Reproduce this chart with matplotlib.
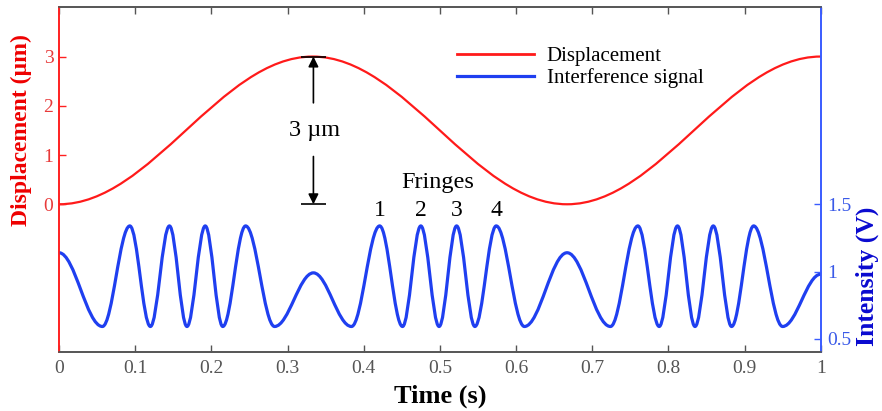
import numpy as np
import matplotlib
matplotlib.use("Agg")
import matplotlib.pyplot as plt
from matplotlib.path import Path
from matplotlib.patches import PathPatch
from matplotlib.lines import Line2D

plt.rcParams['font.family'] = ['Liberation Serif', 'DejaVu Serif']
plt.rcParams['mathtext.fontset'] = 'stix'

# ---- data (turning points of each curve) ----
disp_t = [0.0, 0.333, 0.667, 1.0]          # s
disp_um = [0.0, 3.0, 0.0, 3.0]             # µm

sig_t = [0.0, 0.057, 0.093, 0.120, 0.145, 0.168, 0.192, 0.215, 0.245, 0.283,
         0.334, 0.384, 0.421, 0.451, 0.475, 0.499, 0.522, 0.546, 0.574, 0.611,
         0.667, 0.724, 0.760, 0.788, 0.812, 0.835, 0.859, 0.883, 0.912, 0.950,
         1.0]
sig_v = [1.14, 0.59, 1.34, 0.59, 1.34, 0.59, 1.34, 0.59, 1.34, 0.59,
         0.99, 0.59, 1.34, 0.59, 1.34, 0.59, 1.34, 0.59, 1.34, 0.59,
         1.14, 0.59, 1.34, 0.59, 1.34, 0.59, 1.34, 0.59, 1.34, 0.59,
         0.98]

x_ticks = [0, 0.1, 0.2, 0.3, 0.4, 0.5, 0.6, 0.7, 0.8, 0.9, 1]
x_ticklabels = ['0', '0.1', '0.2', '0.3', '0.4', '0.5', '0.6', '0.7', '0.8', '0.9', '1']
disp_ticks = [0, 1, 2, 3]
int_ticks = [0.5, 1, 1.5]
int_ticklabels = ['0.5', '1', '1.5']
fringe_labels = ['1', '2', '3', '4']
fringe_idx = [12, 14, 16, 18]   # indices of the labelled peaks in sig_t

RED = '#ff1a1a'
BLUE = '#1f3ff0'


def smooth_path(xs, ys):
    """Cubic Bezier through turning points with flat tangents (drawn by matplotlib)."""
    c = 0.364
    verts = [(xs[0], ys[0])]
    codes = [Path.MOVETO]
    for i in range(len(xs) - 1):
        dx = xs[i + 1] - xs[i]
        verts += [(xs[i] + c * dx, ys[i]), (xs[i + 1] - c * dx, ys[i + 1]),
                  (xs[i + 1], ys[i + 1])]
        codes += [Path.CURVE4] * 3
    return Path(verts, codes)


fig = plt.figure(figsize=(8.82, 4.11), dpi=100)
ax = fig.add_axes([0.0669, 0.1436, 0.8636, 0.8386])
ax2 = ax.twinx()

ax.add_patch(PathPatch(smooth_path(disp_t, disp_um), fill=False, edgecolor=RED,
                       lw=1.6, capstyle='round', joinstyle='round'))
ax2.add_patch(PathPatch(smooth_path(sig_t, sig_v), fill=False, edgecolor=BLUE,
                        lw=2.3, capstyle='round', joinstyle='round'))

ax.set_xlim(0, 1)
ax.set_ylim(-3, 4)
ax2.set_ylim(0.4, 2.97)

ax.set_xticks(x_ticks)
ax.set_xticklabels(x_ticklabels)
ax.set_yticks(disp_ticks)
ax2.set_yticks(int_ticks)
ax2.set_yticklabels(int_ticklabels)

ax.tick_params(axis='x', direction='in', top=True, length=5, width=1,
               colors='#555555', labelsize=14, pad=6)
ax.tick_params(axis='y', direction='in', length=5, width=1, colors='#ff2020',
               labelcolor='#e83a3a', labelsize=14, pad=4, right=False)
ax2.tick_params(axis='y', direction='in', length=5, width=1, colors='#3a5cff',
                labelcolor='#3a5ae8', labelsize=14, pad=5)

for a in (ax, ax2):
    a.spines['top'].set_color('#555555')
    a.spines['bottom'].set_color('#555555')
    a.spines['left'].set_color('#ff2020')
    a.spines['right'].set_color('#3a5cff')
    for s in a.spines.values():
        s.set_linewidth(1.2)

ax.set_xlabel('Time (s)', fontsize=19, fontweight='bold', color='black')
ax.xaxis.set_label_coords(0.5, -0.095)
ax.set_ylabel('Displacement (µm)', fontsize=17, fontweight='bold', color='#ee0000')
ax.yaxis.set_label_coords(-0.036, 0.645)
ax2.set_ylabel('Intensity (V)', fontsize=18.5, fontweight='bold', color='#0a0ad0')
ax2.yaxis.set_label_coords(1.046, 0.22)

# 3 µm annotation
xa = disp_t[1] + 0.001
bar = 0.016
ax.hlines([disp_um[1], disp_um[0]], xa - bar, xa + bar, colors='black', lw=1.2)
ax.annotate('', xy=(xa, disp_um[1]), xytext=(xa, 2.06),
            arrowprops=dict(arrowstyle='-|>,head_length=0.6,head_width=0.3',
                            color='black', lw=1.2, shrinkA=0, shrinkB=0))
ax.annotate('', xy=(xa, disp_um[0]), xytext=(xa, 0.97),
            arrowprops=dict(arrowstyle='-|>,head_length=0.6,head_width=0.3',
                            color='black', lw=1.2, shrinkA=0, shrinkB=0))
ax.text(xa + 0.001, 1.49, '3 µm', fontsize=17.5, ha='center', va='center')

# Fringes labels
ax.text(0.497, 0.45, 'Fringes', fontsize=17.5, ha='center', va='center')
for lab, i in zip(fringe_labels, fringe_idx):
    ax2.text(sig_t[i], 1.455, lab, fontsize=17, ha='center', va='center')

handles = [Line2D([], [], color=RED, lw=2.0), Line2D([], [], color=BLUE, lw=2.3)]
ax.legend(handles, ['Displacement', 'Interference signal'], loc='center left',
          bbox_to_anchor=(0.5225, 0.8254), frameon=False, fontsize=15,
          handlelength=3.7, handletextpad=0.6, labelspacing=0.1, borderpad=0,
          borderaxespad=0)

fig.savefig('out.png', dpi=100)
